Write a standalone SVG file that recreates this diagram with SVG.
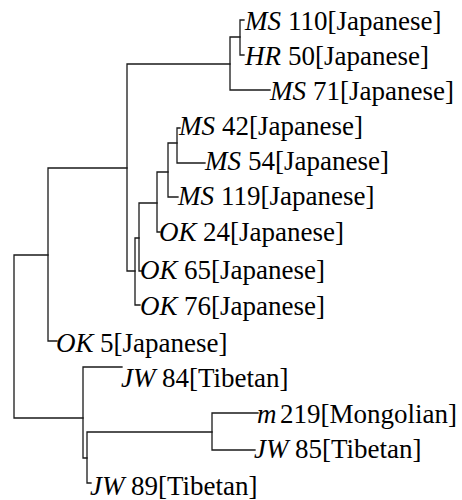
<svg xmlns="http://www.w3.org/2000/svg" width="462" height="500" viewBox="0 0 462 500">
<rect width="462" height="500" fill="#fff"/>
<g id="connectors" fill="none" stroke="#1a1a1a" stroke-width="1.3" stroke-linecap="square">
<path d="M14,255V418M14,255H48M14,418H83"/>
<path d="M48,168V341M48,168H127M48,341H57"/>
<path d="M127,64V271M127,64H230M127,271H135"/>
<path d="M230,37V90M230,37H240M230,90H270"/>
<path d="M240,20V55M240,20H244M240,55H244"/>
<path d="M135,238V305M135,238H139M135,305H140"/>
<path d="M139,203V271M139,203H157M139,271H142"/>
<path d="M157,172V232M157,172H168M157,232H160"/>
<path d="M168,143V197M168,143H177M168,197H178"/>
<path d="M177,128V163M177,128H180M177,163H205"/>
<path d="M83,367V458M83,367H122M83,458H87"/>
<path d="M87,432V483M87,432H212M87,483H91"/>
<path d="M212,413V450M212,413H258M212,450H255"/>
</g>
<g id="ms110"><text x="245" y="30" style="font-family:'Liberation Serif';font-size:27px;font-style:italic">MS</text><text x="288" y="30" style="font-family:'Liberation Serif';font-size:27px">110[Japanese]</text></g>
<g id="hr50"><text x="245" y="65" style="font-family:'Liberation Serif';font-size:27px;font-style:italic">HR</text><text x="288" y="65" style="font-family:'Liberation Serif';font-size:27px">50[Japanese]</text></g>
<g id="ms71"><text x="270" y="100" style="font-family:'Liberation Serif';font-size:27px;font-style:italic">MS</text><text x="313" y="100" style="font-family:'Liberation Serif';font-size:27px">71[Japanese]</text></g>
<g id="ms42"><text x="179" y="135" style="font-family:'Liberation Serif';font-size:27px;font-style:italic">MS</text><text x="222" y="135" style="font-family:'Liberation Serif';font-size:27px">42[Japanese]</text></g>
<g id="ms54"><text x="205" y="170" style="font-family:'Liberation Serif';font-size:27px;font-style:italic">MS</text><text x="248" y="170" style="font-family:'Liberation Serif';font-size:27px">54[Japanese]</text></g>
<g id="ms119"><text x="178" y="205" style="font-family:'Liberation Serif';font-size:27px;font-style:italic">MS</text><text x="221" y="205" style="font-family:'Liberation Serif';font-size:27px">119[Japanese]</text></g>
<g id="ok24"><text x="159" y="241" style="font-family:'Liberation Serif';font-size:27px;font-style:italic">OK</text><text x="203" y="241" style="font-family:'Liberation Serif';font-size:27px">24[Japanese]</text></g>
<g id="ok65"><text x="140" y="279" style="font-family:'Liberation Serif';font-size:27px;font-style:italic">OK</text><text x="184" y="279" style="font-family:'Liberation Serif';font-size:27px">65[Japanese]</text></g>
<g id="ok76"><text x="140" y="315" style="font-family:'Liberation Serif';font-size:27px;font-style:italic">OK</text><text x="184" y="315" style="font-family:'Liberation Serif';font-size:27px">76[Japanese]</text></g>
<g id="ok5"><text x="56" y="352" style="font-family:'Liberation Serif';font-size:27px;font-style:italic">OK</text><text x="100" y="352" style="font-family:'Liberation Serif';font-size:27px">5[Japanese]</text></g>
<g id="jw84"><text x="121" y="387" style="font-family:'Liberation Serif';font-size:27px;font-style:italic">JW</text><text x="162" y="387" style="font-family:'Liberation Serif';font-size:27px">84[Tibetan]</text></g>
<g id="m219"><text x="257" y="423" style="font-family:'Liberation Serif';font-size:27px;font-style:italic">m</text><text x="280" y="423" style="font-family:'Liberation Serif';font-size:27px">219[Mongolian]</text></g>
<g id="jw85"><text x="254" y="458" style="font-family:'Liberation Serif';font-size:27px;font-style:italic">JW</text><text x="295" y="458" style="font-family:'Liberation Serif';font-size:27px">85[Tibetan]</text></g>
<g id="jw89"><text x="90" y="495" style="font-family:'Liberation Serif';font-size:27px;font-style:italic">JW</text><text x="131" y="495" style="font-family:'Liberation Serif';font-size:27px">89[Tibetan]</text></g>
</svg>
